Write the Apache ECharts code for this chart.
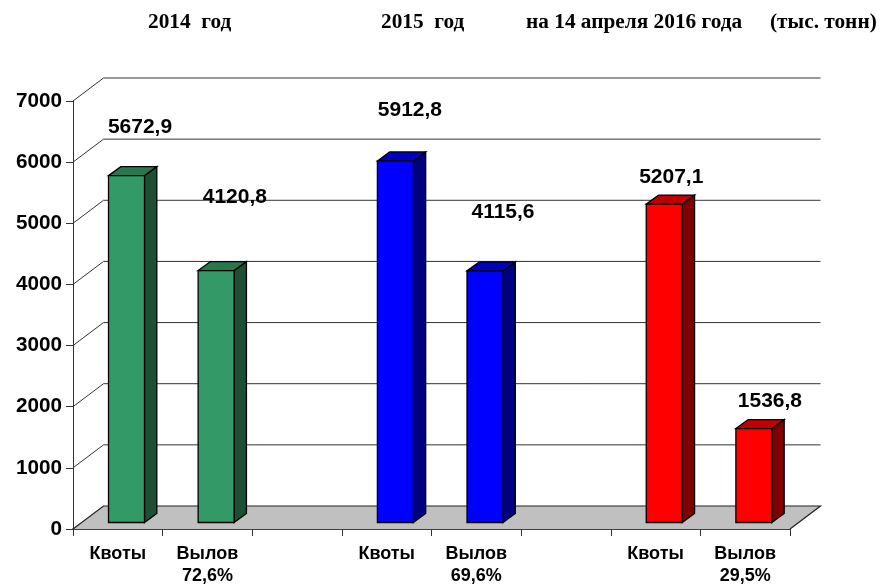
<!DOCTYPE html>
<html>
<head>
<meta charset="utf-8">
<style>html,body{margin:0;padding:0;background:#fff}#main{width:880px;height:587px}</style>
<script src="https://cdn.jsdelivr.net/npm/echarts@6/dist/echarts.min.js"></script>
</head>
<body>
<div id="main"></div>
<script>
var categories = ['Квоты', 'Вылов\n72,6%', '', 'Квоты', 'Вылов\n69,6%', '', 'Квоты', 'Вылов\n29,5%'];
var barValues = [5672.9, 4120.8, null, 5912.8, 4115.6, null, 5207.1, 1536.8];
var yTicks = [1000, 2000, 3000, 4000, 5000, 6000, 7000];

// front, side, top of each bar
var green = ['#339966', '#1d4f35', '#27774f'];
var blue = ['#0000ff', '#000080', '#0000c0'];
var red = ['#ff0000', '#800000', '#c00000'];
var barColors = [green, green, null, blue, blue, null, red, red];

// where the value captions sit, relative to the top of the bar
var captionShift = [[13.5, -48.6], [18.7, -73.6], null, [14.5, -50.8], [18, -59], null, [7, -27], [16, -27]];

var wallX = 30.5, wallY = 23;
var depthX = 12.3, depthY = 9;
var barWidth = 36, barShift = 8.7, barLift = 6.5;

var chart = echarts.init(document.getElementById('main'));

function renderWall(params, api){
	var sys = params.coordSys;
	var y = api.coord([0, api.value(1)])[1];
	var left = sys.x, right = sys.x + sys.width;
	return {
		type: 'polyline',
		shape: {points: [[left, y], [left + wallX, y - wallY], [right + wallX, y - wallY]]},
		style: {fill: null, stroke: '#333', lineWidth: 1}
	};
}

function renderFloor(params, api){
	var sys = params.coordSys;
	var y = api.coord([0, 0])[1];
	var left = sys.x, right = sys.x + sys.width;
	return {
		type: 'polygon',
		shape: {points: [[left, y], [left + wallX, y - wallY], [right + wallX, y - wallY], [right, y]]},
		style: {fill: '#c0c0c0', stroke: null}
	};
}

function renderFloorEdge(params, api){
	var sys = params.coordSys;
	var y = api.coord([0, 0])[1];
	var left = sys.x, right = sys.x + sys.width;
	return {
		type: 'polyline',
		shape: {points: [[left, y], [left + wallX, y - wallY], [right + wallX, y - wallY], [right, y]]},
		style: {fill: null, stroke: '#222', lineWidth: 1.2}
	};
}

function renderBar(params, api){
	var i = api.value(0);
	var color = barColors[i];
	var pos = api.coord([i, api.value(1)]);
	var zero = api.coord([i, 0]);
	var x = pos[0] + barShift - barWidth / 2;
	var x2 = x + barWidth;
	var base = zero[1] - barLift;
	var top = pos[1] - barLift;
	return {
		type: 'group',
		children: [{
			type: 'polygon',
			shape: {points: [[x2, base], [x2 + depthX, base - depthY], [x2 + depthX, top - depthY], [x2, top]]},
			style: {fill: color[1], stroke: '#000', lineWidth: 1.3}
		}, {
			type: 'polygon',
			shape: {points: [[x, top], [x + depthX, top - depthY], [x2 + depthX, top - depthY], [x2, top]]},
			style: {fill: color[2], stroke: '#000', lineWidth: 1.3}
		}, {
			type: 'rect',
			shape: {x: x, y: top, width: barWidth, height: base - top},
			style: {fill: color[0], stroke: '#000', lineWidth: 1.3}
		}]
	};
}

function renderCaption(params, api){
	var i = api.value(0);
	var pos = api.coord([i, api.value(1)]);
	var shift = captionShift[i];
	return {
		type: 'text',
		style: {
			x: pos[0] + barShift + shift[0],
			y: pos[1] - barLift + shift[1],
			text: String(api.value(1)).replace('.', ','),
			align: 'center',
			verticalAlign: 'middle',
			fill: '#000',
			font: 'bold 21px "Liberation Sans", Arial, sans-serif'
		}
	};
}

var barData = [];
for(var i = 0; i < barValues.length; i++){
	if(barValues[i] !== null){
		barData.push([i, barValues[i]]);
	}
}

var wallData = [];
for(var j = 0; j < yTicks.length; j++){
	wallData.push([0, yTicks[j]]);
}

function headerText(text, x){
	return {
		type: 'text',
		left: x,
		top: 12,
		style: {
			text: text,
			fill: '#000',
			font: 'bold 21.3px "Liberation Serif", "Times New Roman", serif'
		}
	};
}

chart.setOption({
	animation: false,
	backgroundColor: '#fff',
	graphic: [
		headerText('2014  год', 148),
		headerText('2015  год', 381),
		headerText('на 14 апреля 2016 года', 526),
		headerText('(тыс. тонн)', 770)
	],
	grid: {left: 73, right: 90, top: 101, bottom: 56},
	xAxis: {
		type: 'category',
		data: categories,
		axisLine: {lineStyle: {color: '#000', width: 1.5}},
		axisTick: {show: true, length: 7, interval: 0, lineStyle: {color: '#333', width: 1}},
		axisLabel: {
			interval: 0,
			margin: 14,
			color: '#000',
			fontFamily: '"Liberation Sans", Arial, sans-serif',
			fontWeight: 'bold',
			fontSize: 18,
			lineHeight: 22
		},
		splitLine: {show: false}
	},
	yAxis: {
		type: 'value',
		min: 0,
		max: 7000,
		interval: 1000,
		axisLine: {show: true, lineStyle: {color: '#333', width: 1}},
		axisTick: {show: true, length: 7, lineStyle: {color: '#333', width: 1}},
		axisLabel: {
			margin: 11,
			padding: [3, 0, 0, 0],
			color: '#000',
			fontFamily: '"Liberation Sans", Arial, sans-serif',
			fontWeight: 'bold',
			fontSize: 20.7,
			formatter: function(v){
				return String(v);
			}
		},
		splitLine: {show: false}
	},
	series: [
		{type: 'custom', silent: true, z: 1, renderItem: renderFloor, data: [[0, 0]], encode: {x: 0, y: 1}},
		{type: 'custom', silent: true, z: 2, renderItem: renderWall, data: wallData, encode: {x: 0, y: 1}},
		{type: 'custom', silent: true, z: 3, renderItem: renderFloorEdge, data: [[0, 0]], encode: {x: 0, y: 1}},
		{type: 'custom', silent: true, z: 4, renderItem: renderBar, data: barData, encode: {x: 0, y: 1}},
		{type: 'custom', silent: true, z: 5, renderItem: renderCaption, data: barData, encode: {x: 0, y: 1}}
	]
});
</script>
</body>
</html>
